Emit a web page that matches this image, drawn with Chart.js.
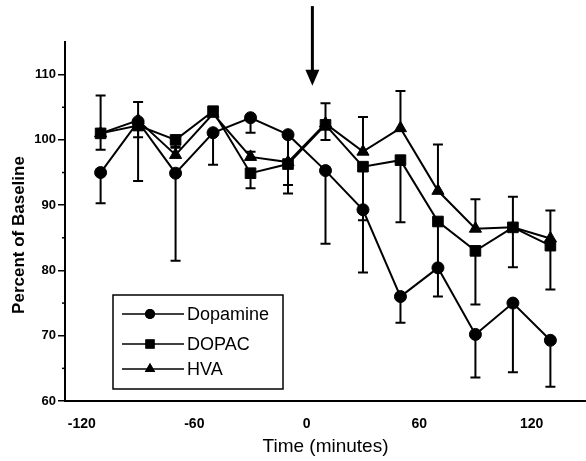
<!DOCTYPE html>
<html>
<head>
<meta charset="utf-8">
<script src="https://cdn.jsdelivr.net/npm/chart.js@4/dist/chart.umd.min.js"></script>
<style>
	html, body { margin: 0; padding: 0; background: #fff; }
	#wrap { width: 586px; height: 461px; position: relative; }
</style>
</head>
<body>
<div id="wrap"><canvas id="lineCanvas"></canvas></div>
<script>
// sample times (minutes)
var times = [-110, -90, -70, -50, -30, -10, 10, 30, 50, 70, 90, 110, 130];

// percent of baseline
var dopamine = [95.0, 102.8, 94.9, 101.1, 103.4, 100.8, 95.3, 89.3, 76.0, 80.4, 70.2, 75.0, 69.3];
var dopac    = [101.0, 102.2, 100.0, 104.4, 94.9, 96.3, 102.3, 95.9, 96.9, 87.5, 83.0, 86.6, 83.8];
var hva      = [101.0, 103.0, 97.7, 104.0, 97.4, 96.6, 102.5, 98.2, 101.8, 92.2, 86.4, 86.6, 84.9];

// error bars (one-sided, 0 = none)
var dopamineDown = [4.7, 9.1, 13.4, 4.9, 2.3, 9.0, 11.2, 9.6, 4.0, 4.4, 6.6, 10.6, 7.1];
var dopacDown    = [2.5, 1.8, 1.2, 0, 2.3, 3.2, 2.3, 8.2, 9.5, 7.5, 8.2, 6.1, 6.7];
var hvaUp        = [5.8, 2.8, 1.2, 0, 0.8, 0, 3.1, 5.3, 5.7, 7.1, 4.5, 4.7, 4.3];

var xTicks = [-120, -60, 0, 60, 120];
var yTicks = [60, 70, 80, 90, 100, 110];
var yMinorTicks = [65, 75, 85, 95, 105];

var arrowTime = 3;
var arrowFrom = 120.5;
var arrowTo = 108.3;

var FONT = '"Liberation Sans", Arial, sans-serif';

function pts(vals) {
	return times.map(function(t, i) { return { x: t, y: vals[i] }; });
}

var extras = {	// error bars, minor ticks, arrow, y title, legend box
	id: 'extras',
	beforeDatasetsDraw: function(chart) {
		var ctx = chart.ctx;
		var xs = chart.scales.x, ys = chart.scales.y;
		ctx.save();
		ctx.strokeStyle = '#000';
		ctx.lineWidth = 2;
		chart.data.datasets.forEach(function(ds) {
			ds.data.forEach(function(p, i) {
				var x = xs.getPixelForValue(p.x);
				var y0 = ys.getPixelForValue(p.y);
				[[ds.errUp, 1], [ds.errDown, -1]].forEach(function(e) {
					if (!e[0] || !e[0][i]) return;
					var y1 = ys.getPixelForValue(p.y + e[1] * e[0][i]);
					ctx.beginPath();
					ctx.moveTo(x, y0); ctx.lineTo(x, y1);
					ctx.moveTo(x - 5, y1); ctx.lineTo(x + 5, y1);
					ctx.stroke();
				});
			});
		});
		ctx.restore();
	},
	afterDraw: function(chart) {
		var ctx = chart.ctx;
		var xs = chart.scales.x, ys = chart.scales.y;
		ctx.save();
		ctx.strokeStyle = '#000';
		ctx.fillStyle = '#000';
		// minor ticks on y
		ctx.lineWidth = 1.5;
		yMinorTicks.forEach(function(v) {
			var y = ys.getPixelForValue(v);
			ctx.beginPath();
			ctx.moveTo(xs.left - 3, y); ctx.lineTo(xs.left, y);
			ctx.stroke();
		});
		// arrow
		var ax = xs.getPixelForValue(arrowTime);
		var ay0 = ys.getPixelForValue(arrowFrom);
		var ay1 = ys.getPixelForValue(arrowTo);
		ctx.lineWidth = 3;
		ctx.beginPath();
		ctx.moveTo(ax, ay0); ctx.lineTo(ax, ay1 - 14);
		ctx.stroke();
		ctx.beginPath();
		ctx.moveTo(ax - 7, ay1 - 16); ctx.lineTo(ax + 7, ay1 - 16); ctx.lineTo(ax, ay1);
		ctx.closePath();
		ctx.fill();
		// y title
		ctx.save();
		ctx.translate(19, 235);
		ctx.rotate(-Math.PI / 2);
		ctx.font = 'bold 17px ' + FONT;
		ctx.textAlign = 'center';
		ctx.textBaseline = 'middle';
		ctx.fillText('Percent of Baseline', 0, 0);
		ctx.restore();
		// legend
		ctx.lineWidth = 1.5;
		ctx.strokeRect(113, 295, 170, 94);
		ctx.font = '18px ' + FONT;
		ctx.textBaseline = 'middle';
		var rowsY = [314, 344, 369];
		chart.data.datasets.forEach(function(ds, i) {
			var y = rowsY[i];
			ctx.lineWidth = 1.5;
			ctx.beginPath();
			ctx.moveTo(122, y); ctx.lineTo(184, y);
			ctx.stroke();
			Chart.helpers.drawPoint(ctx, { pointStyle: ds.pointStyle, radius: ds.pointRadius - 1, rotation: 0, borderWidth: 0 }, 150, y);
			ctx.fill();
			ctx.fillText(ds.label, 187, y + 1);
		});
		ctx.restore();
	}
};

var ctx = document.getElementById('lineCanvas').getContext('2d');

new Chart(ctx, {
	type: 'line',
	data: {
		datasets: [
			{
				label: 'Dopamine',
				data: pts(dopamine),
				errDown: dopamineDown,
				pointStyle: 'circle',
				pointRadius: 6
			},
			{
				label: 'DOPAC',
				data: pts(dopac),
				errDown: dopacDown,
				pointStyle: 'rect',
				pointRadius: 7.5
			},
			{
				label: 'HVA',
				data: pts(hva),
				errUp: hvaUp,
				pointStyle: 'triangle',
				pointRadius: 7
			}
		]
	},
	options: {
		responsive: true,
		maintainAspectRatio: false,
		animation: false,
		layout: { autoPadding: false, padding: { top: 42, right: 0, left: 0, bottom: 0 } },
		elements: {
			line: { borderColor: '#000', borderWidth: 2, tension: 0, fill: false },
			point: { backgroundColor: '#000', borderColor: '#000', borderWidth: 1 }
		},
		plugins: {
			legend: { display: false },
			tooltip: { enabled: false }
		},
		scales: {
			x: {
				type: 'linear',
				min: -129,
				max: 149,
				afterBuildTicks: function(scale) {
					scale.ticks = xTicks.map(function(v) { return { value: v }; });
				},
				afterFit: function(scale) { scale.height = 60; },
				grid: { display: false },
				border: { display: true, color: '#000', width: 2 },
				ticks: {
					color: '#000',
					padding: 7,
					maxRotation: 0,
					font: { family: FONT, size: 14, weight: 'bold' }
				},
				title: {
					display: true,
					text: 'Time (minutes)',
					color: '#000',
					padding: { top: 0, bottom: 3 },
					font: { family: FONT, size: 19 }
				}
			},
			y: {
				min: 60,
				max: 115,
				afterBuildTicks: function(scale) {
					scale.ticks = yTicks.map(function(v) { return { value: v }; });
				},
				afterFit: function(scale) { scale.width = 65; },
				grid: { drawOnChartArea: false, drawTicks: true, tickLength: 7, color: '#000', lineWidth: 1.5 },
				border: { display: true, color: '#000', width: 2 },
				ticks: {
					color: '#000',
					padding: 2,
					font: { family: FONT, size: 13, weight: 'bold' }
				},
				title: { display: false }
			}
		}
	},
	plugins: [extras]
});
</script>
</body>
</html>
